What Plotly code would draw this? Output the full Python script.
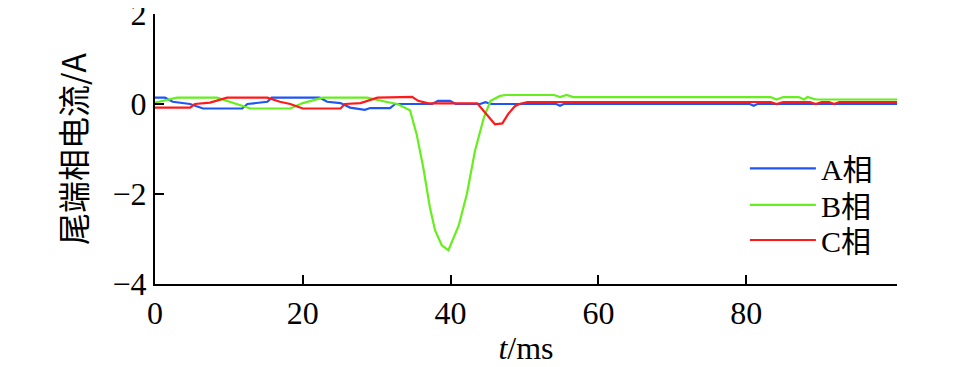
import plotly.graph_objects as go

# Phase A current (time in ms, current in A)
a_t = [0, 1.35, 2.4, 4.74, 6.5, 11.8, 12.5, 15.2, 15.8, 22.3, 23.3, 25.1, 26.4, 28.4, 29.1,
       31.8, 32.5, 37.5, 38.3, 39.9, 40.7, 44.0, 44.7, 45.5, 54.3, 54.8, 55.3, 80.5, 81.0,
       81.5, 100.4]
a_i = [0.14, 0.14, 0.05, 0.0, -0.1, -0.1, 0.0, 0.05, 0.14, 0.14, 0.05, 0.02, -0.08, -0.13, -0.09,
       -0.09, 0.0, 0.0, 0.07, 0.07, 0.0, 0.0, 0.04, 0.0, 0.0, -0.04, 0.0, 0.0, -0.04,
       0.0, 0.0]

# Phase B current
b_t = [0, 2.98, 8.4, 12.9, 18.3, 20.0, 22.7, 28.7, 31.4, 32.8, 34.5, 35.4, 36.3, 37.2, 37.9,
       38.8, 39.7, 41.1, 42.2, 43.3, 44.5, 45.4, 46.7, 47.5, 54.0, 54.8, 55.7, 56.6, 83.3,
       84.1, 85.0, 87.1, 87.8, 88.3, 89.4, 100.4]
b_i = [0.03, 0.14, 0.14, -0.1, -0.1, 0.02, 0.14, 0.14, 0.045, 0.0, -0.14, -0.67, -1.41, -2.3, -2.81,
       -3.14, -3.25, -2.7, -2.0, -1.04, -0.3, 0.07, 0.18, 0.2, 0.2, 0.155, 0.2, 0.155, 0.155,
       0.1, 0.155, 0.155, 0.1, 0.155, 0.1, 0.1]

# Phase C current
c_t = [0, 4.74, 5.4, 7.45, 9.75, 15.2, 16.9, 18.3, 20.0, 25.1, 25.7, 27.8, 30.1, 34.8, 35.6,
       37.0, 43.6, 46.0, 47.0, 47.8, 48.7, 49.3, 50.4, 83.3, 84.1, 85.0, 88.6, 89.4, 90.2,
       91.2, 91.9, 92.6, 100.4]
c_i = [-0.08, -0.08, 0.0, 0.03, 0.14, 0.14, 0.05, 0.0, -0.1, -0.1, 0.0, 0.02, 0.14, 0.16, 0.07,
       0.015, 0.015, -0.45, -0.43, -0.22, -0.05, 0.0, 0.045, 0.045, 0.0, 0.045, 0.045, 0.0, 0.045,
       0.045, 0.0, 0.045, 0.045]

names = ["A相", "B相", "C相"]
colors = ["#1f55f5", "#66ee1e", "#ff1a1a"]
legend_ids = ["legend", "legend2", "legend3"]
legend_y = [0.428, 0.293, 0.163]

x_ticks = [0, 20, 40, 60, 80]
y_ticks = [2, 0, -2, -4]

serif = "Liberation Serif, Times New Roman, Noto Sans CJK SC, serif"

fig = go.Figure()
for t, i, n, c, lg in zip([a_t, b_t, c_t], [a_i, b_i, c_i], names, colors, legend_ids):
    fig.add_trace(go.Scatter(x=t, y=i, mode="lines", name=n, legend=lg,
                             line=dict(color=c, width=2.2)))

legend_common = dict(x=0.795, xanchor="left", yanchor="middle",
                     bgcolor="rgba(0,0,0,0)", font=dict(size=30, family=serif),
                     itemwidth=66)

# page body has an 8px default margin, so the figure is 8px smaller in each direction
fig.update_layout(
    width=949, height=359,
    margin=dict(l=147, r=60, t=6, b=83),
    plot_bgcolor="white", paper_bgcolor="white",
    font=dict(family=serif, size=32, color="black"),
    showlegend=True,
    legend=dict(y=legend_y[0], **legend_common),
    legend2=dict(y=legend_y[1], **legend_common),
    legend3=dict(y=legend_y[2], **legend_common),
)
fig.update_xaxes(range=[0, 100.4], tickvals=x_ticks, ticks="inside", ticklen=9,
                 tickwidth=2, tickcolor="black", showline=True, linecolor="black",
                 linewidth=2, showgrid=False, zeroline=False, automargin=False,
                 ticklabeloverflow="allow",
                 title=dict(text="<i>t</i>/ms", font=dict(size=32), standoff=6))
fig.update_yaxes(range=[-4, 2], tickvals=y_ticks, ticks="inside", ticklen=9,
                 tickwidth=2, tickcolor="black", showline=True, linecolor="black",
                 linewidth=2, showgrid=False, zeroline=False, automargin=False,
                 ticklabeloverflow="allow",
                 title=dict(text="尾端相电流/A",
                            font=dict(size=32, family="Noto Sans CJK SC, Liberation Serif"),
                            standoff=16))

fig.write_html("out.html")
